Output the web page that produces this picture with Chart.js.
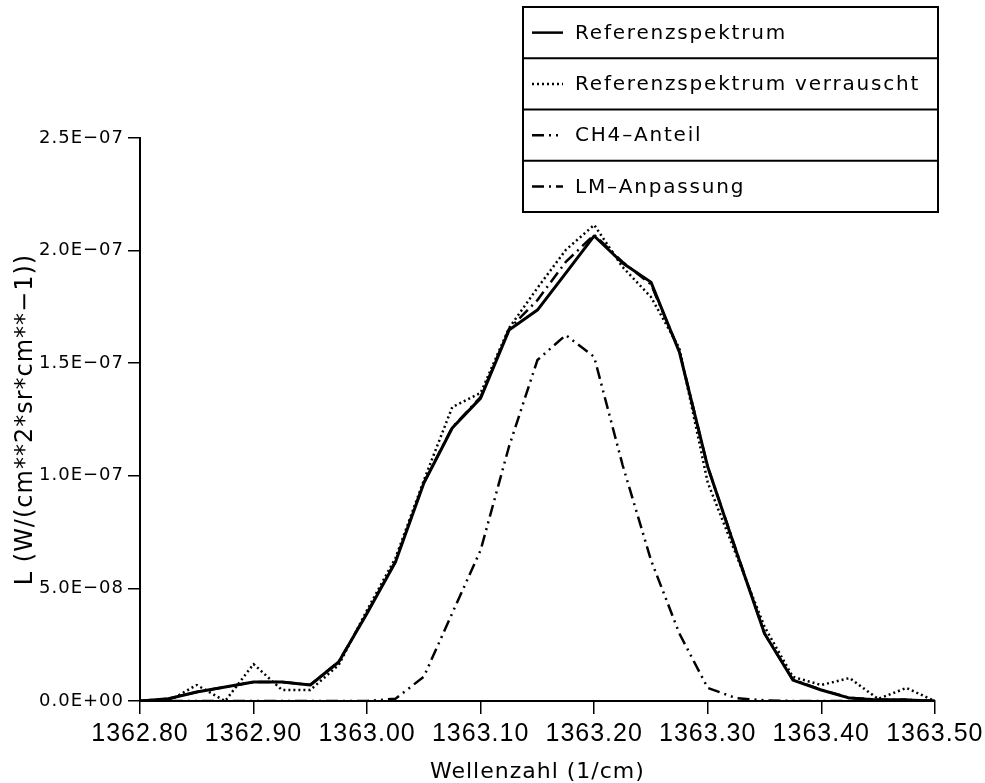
<!DOCTYPE html>
<html>
<head>
<meta charset="utf-8">
<script src="https://cdn.jsdelivr.net/npm/chart.js@4/dist/chart.umd.min.js"></script>
<style>
  html, body { margin: 0; padding: 0; background: #fff; }
  canvas { display: block; }
</style>
</head>
<body>
<canvas id="c" width="985" height="783"></canvas>
<script>
// Wave numbers of the sampled spectrum (1/cm)
const waveNumbers = [
  1362.800, 1362.825, 1362.850, 1362.875, 1362.900, 1362.925, 1362.950, 1362.975,
  1363.000, 1363.025, 1363.050, 1363.075, 1363.100, 1363.125, 1363.150, 1363.175,
  1363.200, 1363.225, 1363.250, 1363.275, 1363.300, 1363.325, 1363.350, 1363.375,
  1363.400, 1363.425, 1363.450, 1363.475, 1363.500
];

// Radiance L in W/(cm**2*sr*cm**-1)
const referenceSpectrum = [
  0.0, 0.10e-8, 0.40e-8, 0.62e-8, 0.84e-8, 0.84e-8, 0.71e-8, 1.73e-8,
  3.90e-8, 6.17e-8, 9.68e-8, 1.212e-7, 1.345e-7, 1.647e-7, 1.736e-7, 1.900e-7,
  2.065e-7, 1.945e-7, 1.860e-7, 1.550e-7, 1.040e-7, 6.66e-8, 3.00e-8, 0.93e-8,
  0.49e-8, 0.13e-8, 0.05e-8, 0.05e-8, 0.0
];
const noisySpectrum = [
  0.0, 0.0, 0.71e-8, 0.0, 1.64e-8, 0.49e-8, 0.49e-8, 1.60e-8,
  4.04e-8, 6.35e-8, 9.80e-8, 1.305e-7, 1.368e-7, 1.656e-7, 1.834e-7, 2.003e-7,
  2.114e-7, 1.927e-7, 1.794e-7, 1.567e-7, 0.97e-7, 6.50e-8, 3.30e-8, 1.07e-8,
  0.71e-8, 1.02e-8, 0.09e-8, 0.58e-8, 0.0
];
const ch4Share = [
  0.0, 0.0, 0.0, 0.0, 0.0, 0.0, 0.0, 0.0,
  0.0, 0.10e-8, 1.08e-8, 3.90e-8, 6.70e-8, 1.130e-7, 1.514e-7, 1.625e-7,
  1.528e-7, 1.048e-7, 6.26e-8, 3.00e-8, 0.58e-8, 0.13e-8, 0.03e-8, 0.0,
  0.0, 0.0, 0.0, 0.0, 0.0
];
const lmFit = [
  0.0, 0.10e-8, 0.40e-8, 0.62e-8, 0.84e-8, 0.84e-8, 0.72e-8, 1.74e-8,
  3.92e-8, 6.20e-8, 9.70e-8, 1.215e-7, 1.350e-7, 1.652e-7, 1.780e-7, 1.950e-7,
  2.070e-7, 1.950e-7, 1.850e-7, 1.555e-7, 1.040e-7, 6.70e-8, 3.00e-8, 0.95e-8,
  0.50e-8, 0.14e-8, 0.06e-8, 0.05e-8, 0.0
];

const seriesNames = ['Referenzspektrum', 'Referenzspektrum verrauscht', 'CH4–Anteil', 'LM–Anpassung'];

const xTickValues = [1362.8, 1362.9, 1363.0, 1363.1, 1363.2, 1363.3, 1363.4, 1363.5];
const xTickLabels = ['1362.80', '1362.90', '1363.00', '1363.10', '1363.20', '1363.30', '1363.40', '1363.50'];
const yTickValues = [0, 5e-8, 1e-7, 1.5e-7, 2e-7, 2.5e-7];
const yTickLabels = ['0.0E+00', '5.0E−08', '1.0E−07', '1.5E−07', '2.0E−07', '2.5E−07'];

const xTitle = 'Wellenzahl (1/cm)';
const yTitle = 'L (W/(cm**2*sr*cm**−1))';

const toPoints = (values) => waveNumbers.map((x, i) => ({ x: x, y: values[i] }));

function lineSeries(label, values, dash, width) {
  return {
    label: label,
    data: toPoints(values),
    borderColor: '#000',
    backgroundColor: '#000',
    borderWidth: width,
    borderDash: dash,
    borderCapStyle: 'butt',
    borderJoinStyle: 'round',
    pointRadius: 0,
    tension: 0,
    fill: false
  };
}

// Slightly widened lettering, like the plotter font
const textSpacing = {
  id: 'textSpacing',
  beforeDraw(chart) { chart.ctx.letterSpacing = '1px'; },
  afterDraw(chart) { chart.ctx.letterSpacing = '0px'; }
};

// Boxed legend in the upper right corner, one framed row per series
const boxLegend = {
  id: 'boxLegend',
  afterDraw(chart) {
    const ctx = chart.ctx;
    const L = 523, R = 938, T = 7, B = 212;
    const sets = chart.data.datasets;
    const rowH = (B - T) / sets.length;
    ctx.save();
    ctx.fillStyle = '#fff';
    ctx.fillRect(L, T, R - L, B - T);
    ctx.strokeStyle = '#000';
    ctx.lineWidth = 2;
    ctx.setLineDash([]);
    ctx.strokeRect(L, T, R - L, B - T);
    for (let i = 1; i < sets.length; i++) {
      ctx.beginPath();
      ctx.moveTo(L, T + i * rowH);
      ctx.lineTo(R, T + i * rowH);
      ctx.stroke();
    }
    sets.forEach((ds, i) => {
      const cy = T + rowH * (i + 0.5);
      ctx.setLineDash(ds.borderDash || []);
      ctx.lineWidth = 2.5;
      ctx.lineCap = 'butt';
      ctx.beginPath();
      ctx.moveTo(532, cy);
      ctx.lineTo(563, cy);
      ctx.stroke();
      ctx.setLineDash([]);
      ctx.font = '20px "DejaVu Sans"';
      ctx.letterSpacing = '1.8px';
      ctx.textBaseline = 'middle';
      ctx.textAlign = 'left';
      ctx.fillStyle = '#000';
      ctx.fillText(ds.label, 575, cy + 1);
    });
    ctx.restore();
  }
};

Chart.defaults.font.family = '"DejaVu Sans", sans-serif';
Chart.defaults.color = '#000';

new Chart(document.getElementById('c'), {
  type: 'line',
  data: {
    datasets: [
      lineSeries(seriesNames[0], referenceSpectrum, [], 3),
      lineSeries(seriesNames[1], noisySpectrum, [2, 3], 2.5),
      lineSeries(seriesNames[2], ch4Share, [12, 5, 2, 5, 2, 5], 2.5),
      lineSeries(seriesNames[3], lmFit, [12, 5, 2, 5], 2.5)
    ]
  },
  options: {
    responsive: false,
    devicePixelRatio: 1,
    animation: false,
    events: [],
    layout: { padding: { left: 0, right: 49, top: 138, bottom: 0 } },
    plugins: {
      legend: { display: false },
      tooltip: { enabled: false }
    },
    scales: {
      x: {
        type: 'linear',
        min: 1362.8,
        max: 1363.5,
        afterBuildTicks(scale) { scale.ticks = xTickValues.map(v => ({ value: v })); },
        afterFit(scale) { scale.height = 82; },
        ticks: {
          autoSkip: false,
          maxRotation: 0,
          minRotation: 0,
          padding: 5,
          font: { family: '"Liberation Sans"', size: 25 },
          callback: (v, i) => xTickLabels[i]
        },
        grid: {
          drawOnChartArea: false,
          drawTicks: true,
          tickLength: 13,
          color: '#000',
          lineWidth: 1.5
        },
        border: { display: true, color: '#000', width: 2 },
        title: {
          display: true,
          text: xTitle,
          font: { size: 22, lineHeight: 1 },
          padding: { top: 0, bottom: 0 }
        }
      },
      y: {
        type: 'linear',
        min: 0,
        max: 2.5e-7,
        afterBuildTicks(scale) { scale.ticks = yTickValues.map(v => ({ value: v })); },
        afterFit(scale) { scale.width = 140; },
        ticks: {
          autoSkip: false,
          padding: 4,
          font: { size: 18 },
          callback: (v, i) => yTickLabels[i]
        },
        grid: {
          drawOnChartArea: false,
          drawTicks: true,
          tickLength: 12,
          color: '#000',
          lineWidth: 1.5
        },
        border: { display: true, color: '#000', width: 2 },
        title: {
          display: true,
          text: yTitle,
          font: { size: 24, lineHeight: 1 },
          padding: { top: 14, bottom: 0 }
        }
      }
    }
  },
  plugins: [textSpacing, boxLegend]
});
</script>
</body>
</html>
